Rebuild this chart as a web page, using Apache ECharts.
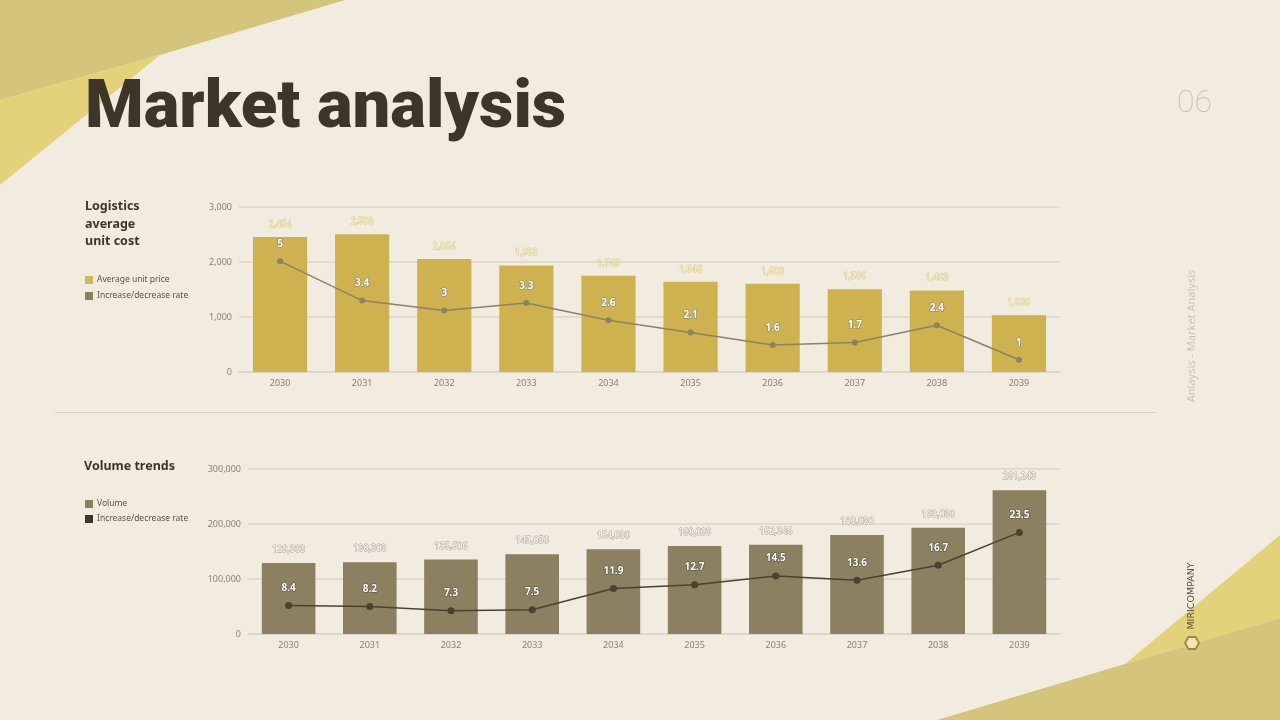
<!DOCTYPE html>
<html>
<head>
<meta charset="utf-8">
<script src="https://cdn.jsdelivr.net/npm/echarts@6/dist/echarts.min.js"></script>
<style>
html,body{margin:0;padding:0;background:#f2ece0;}
#c{width:1280px;height:720px;}
</style>
</head>
<body>
<div id="c"></div>
<script>
const years = ['2030','2031','2032','2033','2034','2035','2036','2037','2038','2039'];
const unitPrice = [2454, 2503, 2054, 1938, 1749, 1640, 1603, 1506, 1483, 1030];
const unitRate = [5, 3.4, 3, 3.3, 2.6, 2.1, 1.6, 1.7, 2.4, 1];
const volume = [129303, 130303, 135506, 145050, 154030, 160030, 162346, 180030, 193030, 261243];
const volumeRate = [8.4, 8.2, 7.3, 7.5, 11.9, 12.7, 14.5, 13.6, 16.7, 23.5];

const chart = echarts.init(document.getElementById('c'), null, {renderer:'canvas'});
const axisFont = {fontFamily:'Noto Sans', fontSize:9, color:'#8a8272'};
const fmt = v => v.toLocaleString('en-US');

chart.setOption({
  backgroundColor:'#f2ece0',
  animation:false,
  textStyle:{fontFamily:'Noto Sans'},
  grid:[
    {left:239, right:220, top:207, height:165},
    {left:248, right:220, top:469, height:165}
  ],
  xAxis:[
    {type:'category', gridIndex:0, data:years, axisTick:{show:false},
     axisLine:{lineStyle:{color:'#ddd5c6', width:1.5}},
     axisLabel:Object.assign({margin:7}, axisFont)},
    {type:'category', gridIndex:1, data:years, axisTick:{show:false},
     axisLine:{lineStyle:{color:'#ddd5c6', width:1.5}},
     axisLabel:Object.assign({margin:7}, axisFont)}
  ],
  yAxis:[
    {type:'value', gridIndex:0, min:0, max:3000, interval:1000,
     axisLine:{show:false}, axisTick:{show:false},
     splitLine:{lineStyle:{color:'#ddd5c6', width:1.5}},
     axisLabel:Object.assign({margin:7, formatter:v=>fmt(v)}, axisFont)},
    {type:'value', gridIndex:0, min:0.5, max:7.2, show:false, splitLine:{show:false}},
    {type:'value', gridIndex:1, min:0, max:300000, interval:100000,
     axisLine:{show:false}, axisTick:{show:false},
     splitLine:{lineStyle:{color:'#ddd5c6', width:1.5}},
     axisLabel:Object.assign({margin:7, formatter:v=>fmt(v)}, axisFont)},
    {type:'value', gridIndex:1, min:2.5, max:36.6, show:false, splitLine:{show:false}}
  ],
  series:[
    {type:'bar', xAxisIndex:0, yAxisIndex:0, data:unitPrice, barWidth:'66%',
     itemStyle:{color:'#cdb24f'},
     label:{show:true, position:'top', distance:8, formatter:p=>fmt(p.value),
       fontSize:9, color:'#f7f0d2', textBorderColor:'#d6c680', textBorderWidth:0.9}},
    {type:'line', xAxisIndex:0, yAxisIndex:1, data:unitRate, symbol:'circle', symbolSize:6,
     lineStyle:{color:'#8d8263', width:1.5}, itemStyle:{color:'#8d8263'},
     label:{show:true, position:'top', distance:9, fontSize:10, fontWeight:'bold',
       color:'#ffffff', textBorderColor:'#8d8263', textBorderWidth:1.2}},
    {type:'bar', xAxisIndex:1, yAxisIndex:2, data:volume, barWidth:'66%',
     itemStyle:{color:'#8b8160'},
     label:{show:true, position:'top', distance:9, formatter:p=>fmt(p.value),
       fontSize:9, color:'#ffffff', textBorderColor:'#a49d8b', textBorderWidth:0.9}},
    {type:'line', xAxisIndex:1, yAxisIndex:3, data:volumeRate, symbol:'circle', symbolSize:7,
     lineStyle:{color:'#4a4130', width:1.5}, itemStyle:{color:'#4a4130'},
     label:{show:true, position:'top', distance:9, fontSize:10, fontWeight:'bold',
       color:'#ffffff', textBorderColor:'#5a5040', textBorderWidth:1.2}}
  ],
  graphic:[
    {type:'polygon', z:-10, shape:{points:[[0,0],[345,0],[160,55],[0,100]]}, style:{fill:'#d5c47c'}},
    {type:'polygon', z:-10, shape:{points:[[160,55],[0,100],[0,185]]}, style:{fill:'#e3d27a'}},
    {type:'polygon', z:-10, shape:{points:[[1280,535],[1125,664],[1280,618]]}, style:{fill:'#e3d27a'}},
    {type:'polygon', z:-10, shape:{points:[[937,720],[1125,664],[1280,618],[1280,720]]}, style:{fill:'#d5c47c'}},
    {type:'line', shape:{x1:55, y1:412.5, x2:1155, y2:412.5}, style:{stroke:'#d9d1c2', lineWidth:1}},
    {type:'text', left:85, top:77, style:{text:'Market analysis', fontFamily:'Roboto', fontWeight:900,
       fontSize:67, fill:'#3d3628'}},
    {type:'text', left:1177, top:88, style:{text:'06', fontFamily:'Roboto', fontWeight:100,
       fontSize:32, fill:'#c4bdae'}},
    {type:'text', x:1192, y:336, rotation:Math.PI/2, style:{text:'Anlaysis - Market Analysis', fontFamily:'Noto Sans',
       fontSize:11, fill:'#cfc5b0', align:'center', verticalAlign:'middle'}},
    {type:'text', x:1192, y:596, rotation:Math.PI/2, style:{text:'MIRICOMPANY', fontFamily:'DejaVu Sans',
       fontSize:9.5, fill:'#5a5040', align:'center', verticalAlign:'middle'}},
    {type:'polygon', shape:{points:[[1185,643],[1188.5,637],[1195.5,637],[1199,643],[1195.5,649],[1188.5,649]]},
       style:{fill:'#efe6b0', stroke:'#9a8a48', lineWidth:1.8}},
    {type:'text', left:85, top:198, style:{text:'Logistics\naverage\nunit cost', fontFamily:'Noto Sans',
       fontWeight:'bold', fontSize:12.5, lineHeight:17.5, fill:'#3d3628'}},
    {type:'rect', shape:{x:85, y:276, width:8, height:8}, style:{fill:'#d3b95b'}},
    {type:'text', left:97, top:275, style:{text:'Average unit price', fontFamily:'Noto Sans', fontSize:8.5, fill:'#5a5345'}},
    {type:'rect', shape:{x:85, y:292, width:8, height:8}, style:{fill:'#8b8160'}},
    {type:'text', left:97, top:291, style:{text:'Increase/decrease rate', fontFamily:'Noto Sans', fontSize:8.5, fill:'#5a5345'}},
    {type:'text', left:84, top:460, style:{text:'Volume trends', fontFamily:'Noto Sans',
       fontWeight:'bold', fontSize:12.5, fill:'#3d3628'}},
    {type:'rect', shape:{x:85, y:500, width:8, height:8}, style:{fill:'#8b8160'}},
    {type:'text', left:97, top:499, style:{text:'Volume', fontFamily:'Noto Sans', fontSize:8.5, fill:'#5a5345'}},
    {type:'rect', shape:{x:85, y:515, width:8, height:8}, style:{fill:'#3d3628'}},
    {type:'text', left:97, top:514, style:{text:'Increase/decrease rate', fontFamily:'Noto Sans', fontSize:8.5, fill:'#5a5345'}}
  ]
});
</script>
</body>
</html>
